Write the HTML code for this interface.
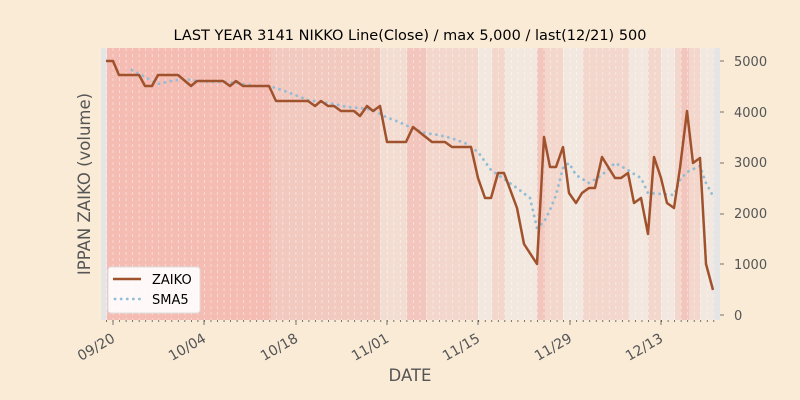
<!DOCTYPE html>
<html><head><meta charset="utf-8"><style>
html,body{margin:0;padding:0;background:#faebd7;}
svg{display:block;font-family:"DejaVu Sans","Liberation Sans",sans-serif;}
</style></head><body>
<svg id="s" width="800" height="400" xmlns="http://www.w3.org/2000/svg">
<rect width="800" height="400" fill="#faebd7"/>
<rect x="101" y="48" width="619" height="272" fill="#e5e5e5"/>
<g id="bands">
<rect x="107" y="48" width="164" height="272" fill="#f4bcb2"/>
<rect x="271" y="48" width="109" height="272" fill="#f2c9bf"/>
<rect x="380" y="48" width="27" height="272" fill="#f3ddd3"/>
<rect x="407" y="48" width="19" height="272" fill="#f2c6bc"/>
<rect x="426" y="48" width="52" height="272" fill="#f3d6cc"/>
<rect x="478" y="48" width="14" height="272" fill="#f2e8df"/>
<rect x="492" y="48" width="13" height="272" fill="#f3d6cc"/>
<rect x="505" y="48" width="32" height="272" fill="#f2e8df"/>
<rect x="537" y="48" width="8" height="272" fill="#f2c6bc"/>
<rect x="545" y="48" width="18" height="272" fill="#f3d6cc"/>
<rect x="563" y="48" width="20" height="272" fill="#f2e8df"/>
<rect x="583" y="48" width="46" height="272" fill="#f3d6cc"/>
<rect x="629" y="48" width="19" height="272" fill="#f2e8df"/>
<rect x="648" y="48" width="13" height="272" fill="#f3d6cc"/>
<rect x="661" y="48" width="14" height="272" fill="#f2e8df"/>
<rect x="675" y="48" width="6" height="272" fill="#f3d6cc"/>
<rect x="681" y="48" width="8" height="272" fill="#f2c6bc"/>
<rect x="689" y="48" width="11" height="272" fill="#f3d6cc"/>
<rect x="700" y="48" width="13" height="272" fill="#f2e8df"/>
</g>
<g id="grid" stroke="#ffffff" stroke-opacity="0.55" stroke-width="0.8" stroke-dasharray="3,3"></g>
<g id="ticks" stroke="#555" stroke-width="0.8"></g>
<polyline fill="none" stroke="#93bdd6" stroke-width="2.8" stroke-dasharray="0.1,6" stroke-linecap="round" points="132,70 145,77 158,84 171,81 184,79 197,81 210,82 223,82 236,83 256,86 269,86 282,90 295,95 308,100 321,102 334,104 347,107 360,108 373,110 386,117 399,122 412,128 425,133 438,135 451,138 465,143 478,152 491,170 504,179 517,188 530,198 537,228 544,222 550,210 556,195 563,168 569,163 576,175 589,183 602,175 615,163 628,170 634,174 641,178 648,193 661,194 674,195 680,180 687,172 700,166 706,183 713,196"/>
<polyline fill="none" stroke="#a0522d" stroke-width="2.5" stroke-linejoin="round" points="106,61 113,61 119,75 139,75 145,86 152,86 158,75 178,75 191,86 197,81 223,81 230,86 236,81 243,86 269,86 276,101 308,101 315,106 321,101 328,106 334,106 341,111 354,111 360,116 367,106 373,111 380,106 387,142 406,142 413,127 432,142 445,142 452,147 471,147 478,178 485,198 491,198 498,173 504,173 517,208 524,244 537,264 544,137 550,167 556,167 563,147 569,193 576,203 582,193 589,188 595,188 602,157 615,178 621,178 628,173 634,203 641,198 648,234 654,157 661,178 667,203 674,208 680,168 687,111 693,163 700,158 706,264 713,290"/>
<g font-size="13" fill="#555">
<text x="734" y="66">5000</text><text x="734" y="117">4000</text><text x="734" y="167">3000</text><text x="734" y="218">2000</text><text x="734" y="269">1000</text><text x="734" y="320">0</text>
</g>
<g font-size="14" fill="#555" text-anchor="end">
<text transform="translate(116,341) rotate(-30)">09/20</text>
<text transform="translate(207,341) rotate(-30)">10/04</text>
<text transform="translate(299,341) rotate(-30)">10/18</text>
<text transform="translate(390,341) rotate(-30)">11/01</text>
<text transform="translate(481,341) rotate(-30)">11/15</text>
<text transform="translate(573,341) rotate(-30)">11/29</text>
<text transform="translate(664,341) rotate(-30)">12/13</text>
</g>
<text x="410" y="40" font-size="14.5" text-anchor="middle" fill="#000">LAST YEAR 3141 NIKKO Line(Close) / max 5,000 / last(12/21) 500</text>
<text x="410" y="381" font-size="16.5" text-anchor="middle" fill="#555">DATE</text>
<text transform="translate(90,184) rotate(-90)" font-size="16.5" text-anchor="middle" fill="#555">IPPAN ZAIKO (volume)</text>
<rect x="108" y="267" width="92" height="46" rx="3" fill="#fff" fill-opacity="0.9" stroke="#ddd"/>
<line x1="113" y1="279" x2="141" y2="279" stroke="#a0522d" stroke-width="2.5"/>
<line x1="115" y1="299" x2="141" y2="299" stroke="#93bdd6" stroke-width="2.8" stroke-dasharray="0.1,6" stroke-linecap="round"/>
<text x="152" y="284" font-size="13" fill="#000">ZAIKO</text>
<text x="152" y="304" font-size="13" fill="#000">SMA5</text>
</svg>
<script>
var g=document.getElementById('grid'),t=document.getElementById('ticks'),ns='http://www.w3.org/2000/svg';
function L(p,a,b,c,d){var l=document.createElementNS(ns,'line');l.setAttribute('x1',a);l.setAttribute('y1',b);l.setAttribute('x2',c);l.setAttribute('y2',d);p.appendChild(l);}
for(var i=0;i<=94;i++){var x=106.5+i*6.53;if(x>720)break;L(g,x,48,x,320);L(t,x,320,x,322);}
[113,204,296,387,478,570,661].forEach(function(x){L(t,x,320,x,325);});
[61,112,163,214,264,315].forEach(function(y){L(t,720,y,724,y);});
</script>
</body></html>
